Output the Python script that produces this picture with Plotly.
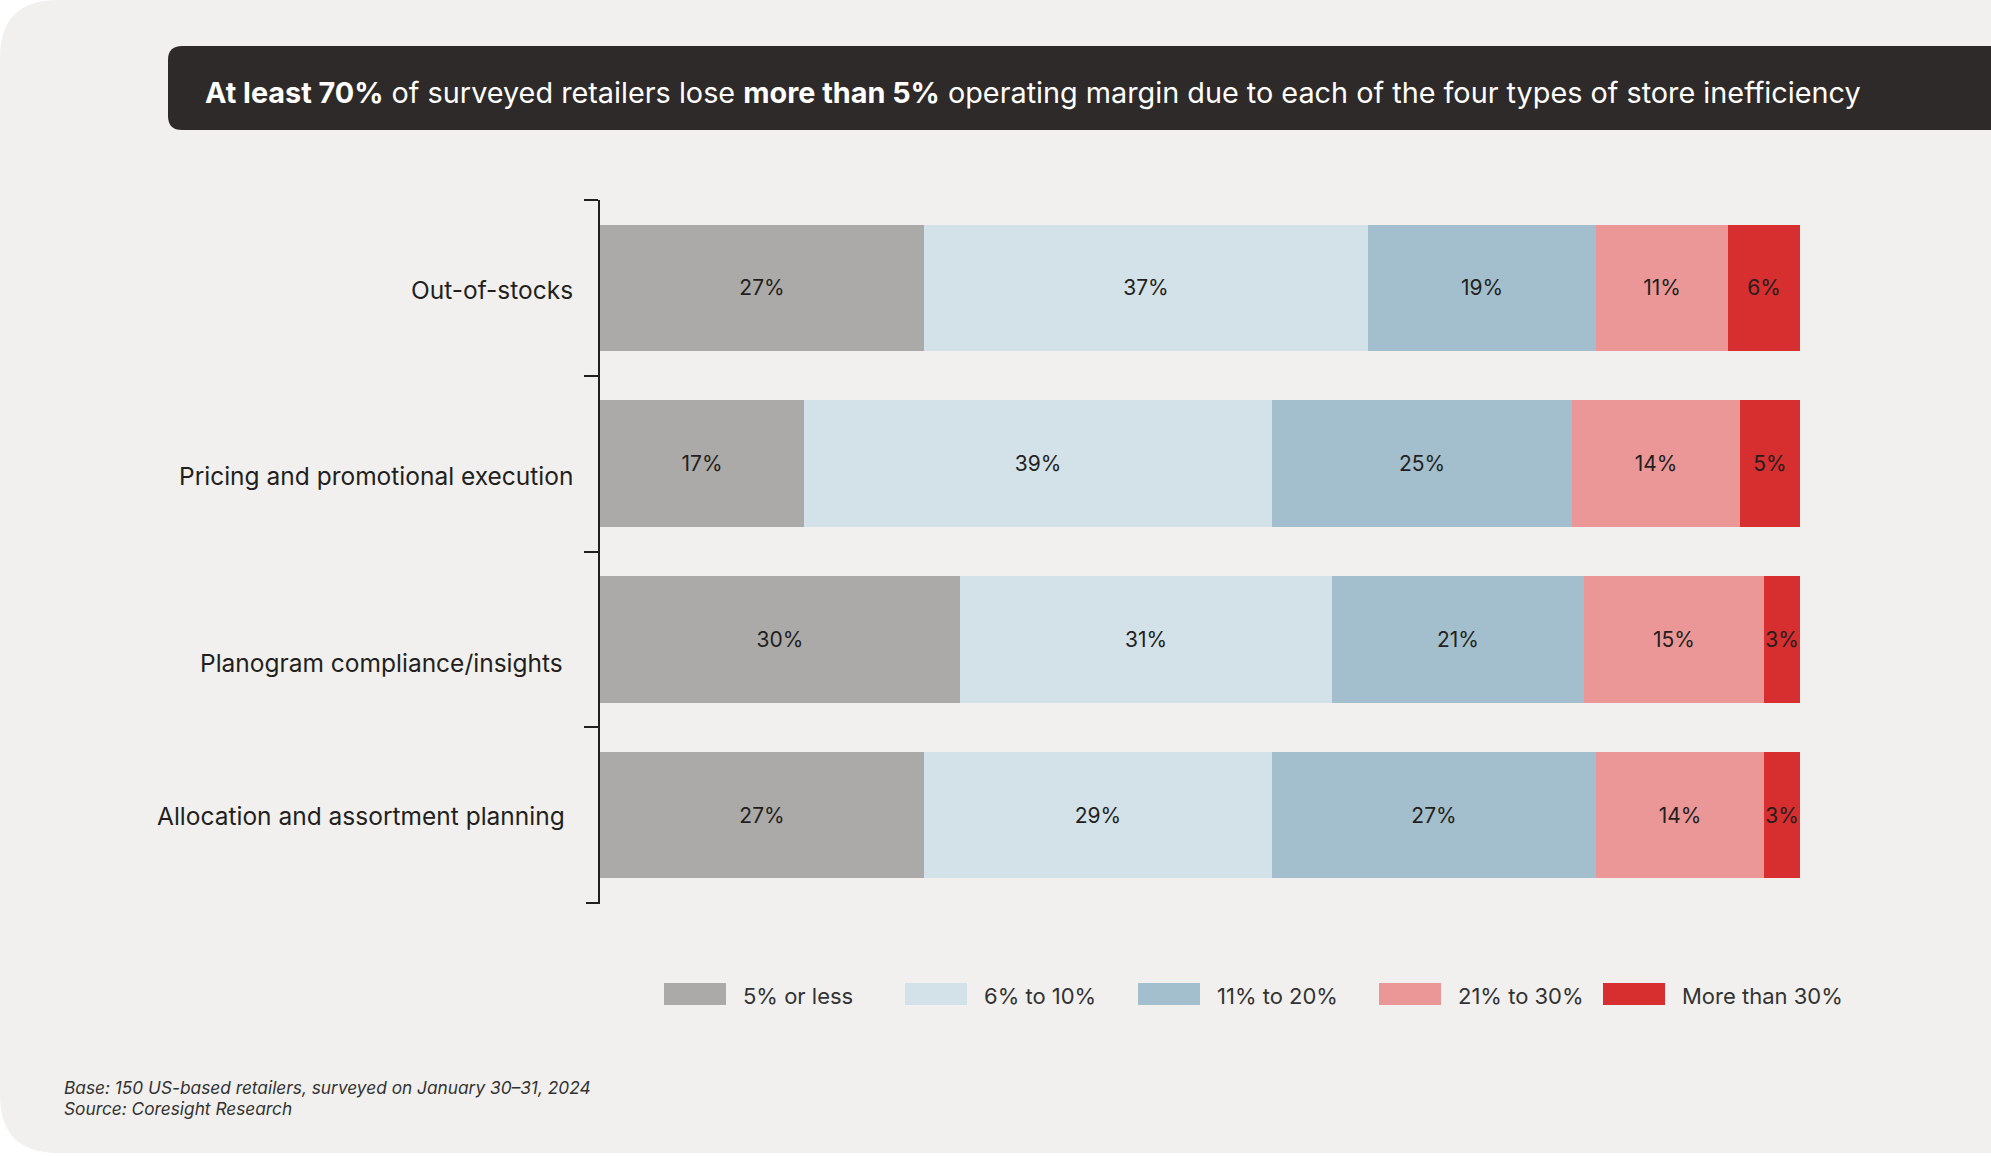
import plotly.graph_objects as go

# Survey categories (top to bottom) and share of retailers per margin-loss band
categories = [
    "Out-of-stocks",
    "Pricing and promotional execution",
    "Planogram compliance/insights",
    "Allocation and assortment planning",
]
bands = ["5% or less", "6% to 10%", "11% to 20%", "21% to 30%", "More than 30%"]
share_5_or_less = [27, 17, 30, 27]
share_6_to_10 = [37, 39, 31, 29]
share_11_to_20 = [19, 25, 21, 27]
share_21_to_30 = [11, 14, 15, 14]
share_over_30 = [6, 5, 3, 3]
band_values = [share_5_or_less, share_6_to_10, share_11_to_20, share_21_to_30, share_over_30]
band_colors = ["#ABAAA8", "#D3E1E8", "#A3BFCD", "#EB9798", "#D72E2F"]

title_html = ("<b>At least 70%</b> of surveyed retailers lose <b>more than 5%</b> "
              "operating margin due to each of the four types of store inefficiency")
footnotes = ["Base: 150 US-based retailers, surveyed on January 30\u201331, 2024",
             "Source: Coresight Research"]

FONT = "Inter"
TEXT = "#231F20"
W, H = 1991, 1156
# plot area in pixels
PL, PR, PT, PB = 600, 1800, 200, 903


def px(x):
    return (x - PL) / (PR - PL)


def py(y):
    return (PB - y) / (PB - PT)


def rounded_left(x0, y0, x1, y1, r):
    return (f"M {px(x0 + r)},{py(y0)} L {px(x1)},{py(y0)} L {px(x1)},{py(y1)} "
            f"L {px(x0 + r)},{py(y1)} Q {px(x0)},{py(y1)} {px(x0)},{py(y1 - r)} "
            f"L {px(x0)},{py(y0 + r)} Q {px(x0)},{py(y0)} {px(x0 + r)},{py(y0)} Z")


fig = go.Figure()
for name, vals, color in zip(bands, band_values, band_colors):
    fig.add_trace(go.Bar(
        y=categories, x=vals, name=name, orientation="h",
        marker=dict(color=color, line=dict(width=0)),
        texttemplate="%{x}%", textposition="inside", insidetextanchor="middle",
        textangle=0, constraintext="none",
        insidetextfont=dict(family=FONT, size=21, color=TEXT),
        hoverinfo="skip",
    ))

shapes = [
    # card background with rounded left corners
    dict(type="path", xref="paper", yref="paper", layer="below",
         path=rounded_left(0, 0, 2010, 1153, 58), fillcolor="#F1F0EE", line=dict(width=0)),
    # dark title banner
    dict(type="path", xref="paper", yref="paper", layer="below",
         path=rounded_left(168, 46, 2010, 130, 14), fillcolor="#2E2A29", line=dict(width=0)),
    # closing tick at the bottom of the category axis
    dict(type="line", xref="paper", yref="paper", x0=px(586), x1=px(600), y0=0, y1=0,
         line=dict(color=TEXT, width=2)),
]

annotations = [
    dict(xref="paper", yref="paper", x=px(203), y=py(92), xanchor="left", yanchor="middle",
         text=title_html, showarrow=False, font=dict(family=FONT, size=28.8, color="#FFFFFF")),
]

# category labels beside the axis, with small hand nudges
label_nudges = [(0, -2), (0, -12), (-10, -24), (-8, -1)]
for cat, (dx, dy) in zip(categories, label_nudges):
    annotations.append(dict(xref="paper", yref="y", x=px(575), y=cat, xanchor="right",
                            yanchor="middle", xshift=dx, yshift=dy, text=cat, showarrow=False,
                            font=dict(family=FONT, size=24.5, color=TEXT)))

# legend row: swatches and labels
swatch_left = [664, 905, 1138, 1379, 1603]
for name, color, x0 in zip(bands, band_colors, swatch_left):
    shapes.append(dict(type="rect", xref="paper", yref="paper",
                       x0=px(x0), x1=px(x0 + 62), y0=py(1005), y1=py(983),
                       fillcolor=color, line=dict(width=0)))
    annotations.append(dict(xref="paper", yref="paper", x=px(x0 + 77), y=py(996),
                            xanchor="left", yanchor="middle", text=name, showarrow=False,
                            font=dict(family=FONT, size=22, color="#333333")))

for i, note in enumerate(footnotes):
    annotations.append(dict(xref="paper", yref="paper", x=px(62), y=py(1087 + 21 * i),
                            xanchor="left", yanchor="middle", text=f"<i>{note}</i>",
                            showarrow=False, font=dict(family=FONT, size=17.3, color="#333333")))

fig.update_layout(
    width=W, height=H,
    margin=dict(l=PL, r=W - PR, t=PT, b=H - PB, pad=0),
    paper_bgcolor="#FFFFFF", plot_bgcolor="rgba(0,0,0,0)",
    barmode="stack", bargap=0.28, showlegend=False, hovermode=False,
    shapes=shapes, annotations=annotations,
    font=dict(family=FONT, color=TEXT),
)
fig.update_xaxes(range=[0, 100], visible=False, fixedrange=True)
fig.update_yaxes(type="category", categoryorder="array", categoryarray=categories,
                 range=[len(categories) - 0.5, -0.5], showticklabels=False,
                 showline=True, linecolor=TEXT, linewidth=2,
                 ticks="outside", tickson="boundaries", ticklen=14, tickwidth=2,
                 tickcolor=TEXT, showgrid=False, zeroline=False, fixedrange=True)

fig.write_html("out.html", config=dict(displayModeBar=False))
